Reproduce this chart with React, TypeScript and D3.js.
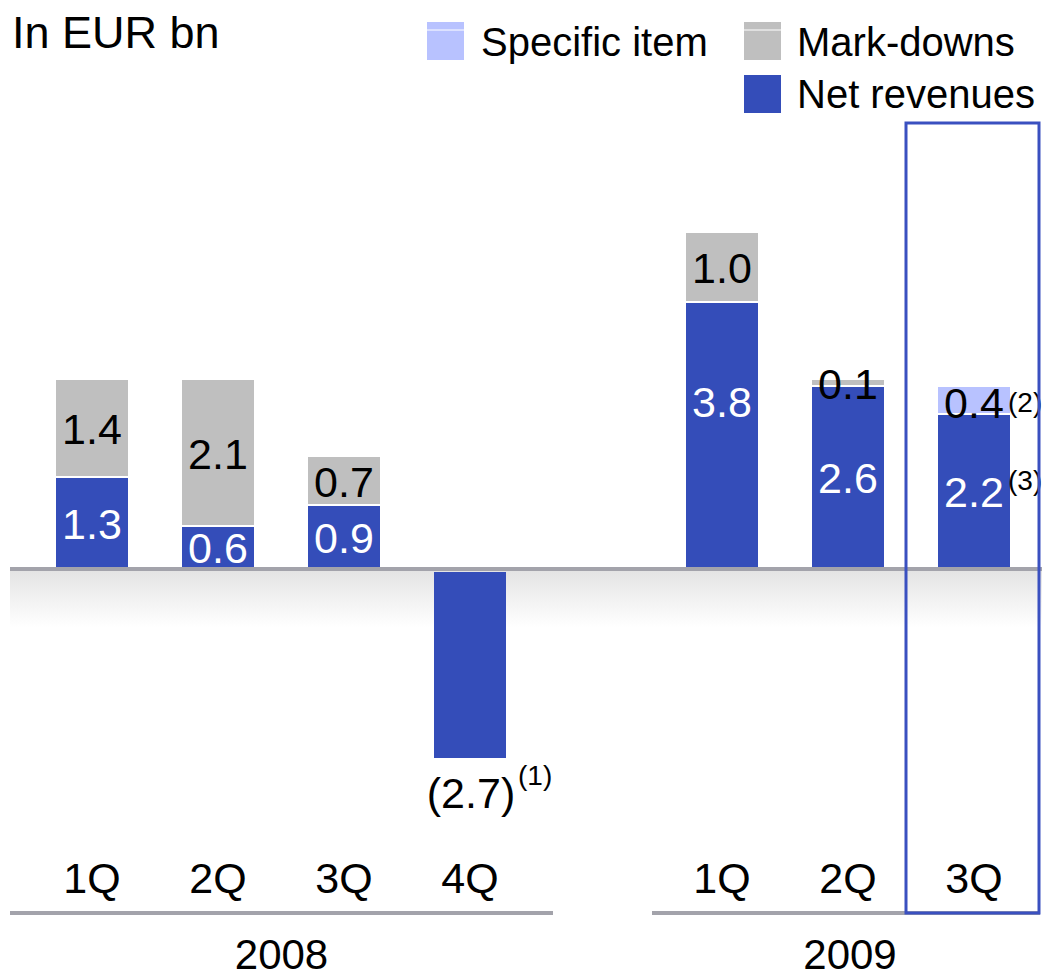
import React from "react";
import * as d3 from "d3";

const quarters = ["1Q", "2Q", "3Q", "4Q", "1Q", "2Q", "3Q"];
const years = ["2008", "2008", "2008", "2008", "2009", "2009", "2009"];
const slots = [0, 1, 2, 3, 5, 6, 7];
const netRevenues = [1.3, 0.6, 0.9, -2.7, 3.8, 2.6, 2.2];
const markDowns = [1.4, 2.1, 0.7, 0, 1.0, 0.1, 0];
const specificItem = [0, 0, 0, 0, 0, 0, 0.4];
const netLabels = ["1.3", "0.6", "0.9", "(2.7)", "3.8", "2.6", "2.2"];
const markLabels = ["1.4", "2.1", "0.7", "", "1.0", "0.1", ""];
const specLabels = ["", "", "", "", "", "", "0.4"];
const netNotes = ["", "", "", "(1)", "", "", "(3)"];
const specNotes = ["", "", "", "", "", "", "(2)"];
const legendItems = ["Specific item", "Mark-downs", "Net revenues"];

const W = 1042;
const H = 979;
const BLUE = "#344DB9";
const GRAY = "#BFBFBF";
const LIGHT = "#B8C2FF";
const LINE = "#A3A3AB";
const FONT = "'Liberation Sans', Arial, Helvetica, sans-serif";
const FS = 43;
const NOTE = 28;

export default function App() {
  const x = d3.scaleLinear().domain([0, 7]).range([56, 938]);
  const bw = 72;
  const y = d3.scaleLinear().domain([-3, 5]).range([569 + 3 * 70, 569 - 5 * 70]);
  const y0 = y(0);

  const bars: any[] = [];
  const labels: any[] = [];
  slots.forEach((s, i) => {
    const left = x(s);
    const cx = left + bw / 2;
    const n = netRevenues[i];
    if (n >= 0) {
      bars.push(<rect key={"n" + i} x={left} y={y(n)} width={bw} height={y0 - y(n)} fill={BLUE} />);
      let cy = (y(n) + y0) / 2;
      if (i === 4) cy = y(n) + 99;
      labels.push(
        <text key={"nl" + i} x={cx} y={cy + FS * 0.35} textAnchor="middle" fill="#fff" fontSize={FS}>{netLabels[i]}</text>
      );
      if (netNotes[i])
        labels.push(<text key={"nn" + i} x={left + bw - 2} y={cy - 2} fontSize={NOTE} fill="#000">{netNotes[i]}</text>);
    } else {
      bars.push(<rect key={"n" + i} x={left} y={y0 + 3} width={bw} height={y(n) - y0 - 3} fill={BLUE} />);
      labels.push(
        <text key={"nl" + i} x={cx + 1} y={y(n) + 50} textAnchor="middle" fill="#000" fontSize={FS}>{netLabels[i]}</text>
      );
      if (netNotes[i])
        labels.push(<text key={"nn" + i} x={cx + 48} y={y(n) + 27} fontSize={NOTE} fill="#000">{netNotes[i]}</text>);
    }
    const base = Math.max(n, 0);
    const m = markDowns[i];
    if (m > 0) {
      bars.push(
        <rect key={"m" + i} x={left} y={y(base + m)} width={bw} height={y(base) - y(base + m) - 2} fill={GRAY} />
      );
      const cy = (y(base + m) + y(base)) / 2;
      labels.push(
        <text key={"ml" + i} x={cx} y={cy + FS * 0.35} textAnchor="middle" fill="#000" fontSize={FS}>{markLabels[i]}</text>
      );
    }
    const sp = specificItem[i];
    if (sp > 0) {
      const b2 = base + m;
      bars.push(
        <rect key={"s" + i} x={left} y={y(b2 + sp)} width={bw} height={y(b2) - y(b2 + sp) - 2} fill={LIGHT} />
      );
      const cy = (y(b2 + sp) + y(b2)) / 2 + 2;
      labels.push(
        <text key={"sl" + i} x={cx} y={cy + FS * 0.35} textAnchor="middle" fill="#000" fontSize={FS}>{specLabels[i]}</text>
      );
      if (specNotes[i])
        labels.push(<text key={"sn" + i} x={left + bw - 2} y={cy + 9} fontSize={NOTE} fill="#000">{specNotes[i]}</text>);
    }
    labels.push(
      <text key={"q" + i} x={cx} y={893} textAnchor="middle" fill="#000" fontSize={FS}>{quarters[i]}</text>
    );
  });

  const yearGroups = Array.from(new Set(years));
  const yearSpans = [
    { x1: 10, x2: 553 },
    { x1: 652, x2: 1040 },
  ];

  return (
    <svg width={W} height={H} style={{ position: "absolute", left: 0, top: 0, display: "block" }} fontFamily={FONT}>
      <defs>
        <linearGradient id="shade" x1="0" y1="0" x2="0" y2="1">
          <stop offset="0" stopColor="#e4e4e4" />
          <stop offset="1" stopColor="#ffffff" />
        </linearGradient>
      </defs>
      <rect width={W} height={H} fill="#fff" />
      <text x={12} y={48} fontSize={45} fill="#000">In EUR bn</text>

      {/* legend */}
      <rect x={427} y={22} width={37} height={38} fill={LIGHT} />
      <line x1={427} x2={464} y1={30} y2={30} stroke="#fff" strokeWidth={1} />
      <text x={481} y={56} fontSize={40} fill="#000">{legendItems[0]}</text>
      <rect x={744} y={22} width={37} height={38} fill={GRAY} />
      <line x1={744} x2={781} y1={30} y2={30} stroke="#fff" strokeWidth={1} />
      <text x={797} y={56} fontSize={40} fill="#000">{legendItems[1]}</text>
      <rect x={744} y={75} width={37} height={38} fill={BLUE} />
      <text x={797} y={108} fontSize={40} fill="#000">{legendItems[2]}</text>

      <rect x={10} y={y0 + 2} width={W - 10} height={56} fill="url(#shade)" />
      {bars}
      <rect x={10} y={y0 - 2} width={W - 10} height={4} fill={LINE} />
      {labels}

      {yearGroups.map((yr, k) => (
        <g key={yr}>
          <rect x={yearSpans[k].x1} y={911} width={yearSpans[k].x2 - yearSpans[k].x1} height={4} fill={LINE} />
          <text x={(yearSpans[k].x1 + yearSpans[k].x2) / 2 + (k === 1 ? 4 : 0)} y={969} textAnchor="middle" fontSize={42} fill="#000">{yr}</text>
        </g>
      ))}

      <rect x={906} y={123} width={133} height={790} fill="none" stroke="#3A50C0" strokeWidth={3} />
    </svg>
  );
}
